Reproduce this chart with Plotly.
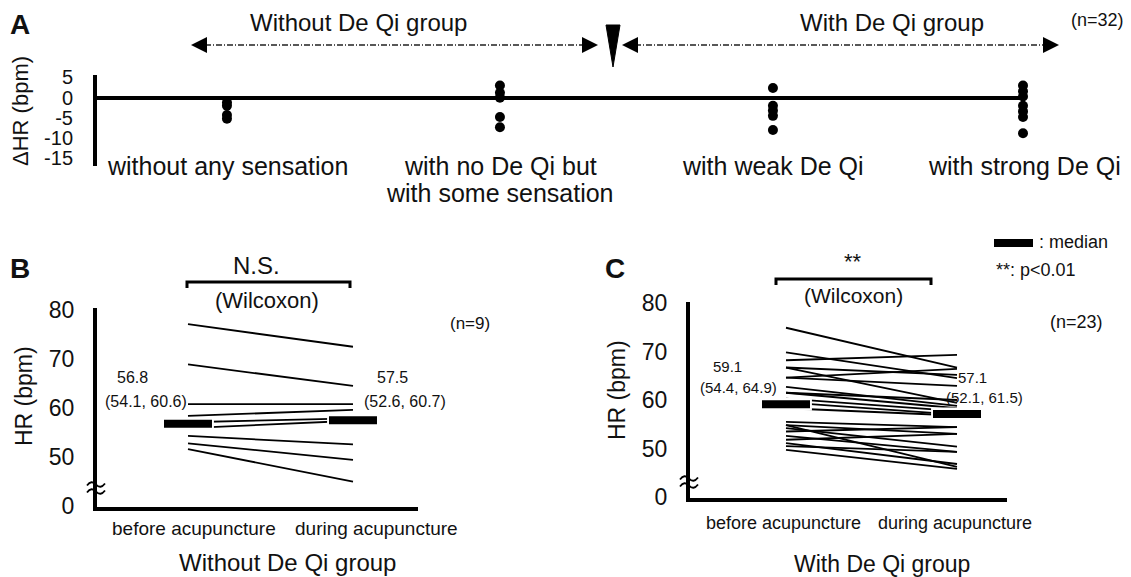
import plotly.graph_objects as go

W, H = 1131, 577
FONT = "Liberation Sans, Arial, Helvetica, sans-serif"
INK = "#111111"


def px(x):
    return x / W


def py(y):
    return 1 - y / H


# ---------------- data ----------------
# Panel A: change of HR (bpm) by sensation category
A_categories = ["without any sensation", "with no De Qi but<br>with some sensation",
                "with weak De Qi", "with strong De Qi"]
A_dhr_without_sensation = [-1.2, -2.0, -4.3, -5.2]
A_dhr_no_deqi = [3.0, 1.2, 0.0, -4.8, -7.3]
A_dhr_weak = [2.4, -2.0, -3.2, -4.5, -8.0]
A_dhr_strong = [3.0, 1.6, 0.3, -2.0, -3.4, -4.8, -8.8]
A_yticks = [5, 0, -5, -10, -15]
A_groups = ["Without De Qi group", "With De Qi group"]
A_n = "(n=32)"

# Panel B: without De Qi group (n=9)
B_before = [77.1, 68.9, 60.8, 58.4, 57.1, 55.9, 54.3, 52.8, 51.6]
B_during = [72.5, 64.5, 60.8, 59.6, 57.9, 57.4, 52.6, 49.4, 45.0]
B_median = [56.8, 57.5]
B_q1 = [54.1, 52.6]
B_q3 = [60.6, 60.7]

# Panel C: with De Qi group (n=23)
C_before = [74.9, 69.8, 68.2, 66.7, 66.7, 64.6, 64.6, 62.7, 61.5, 60.3, 59.5, 58.3,
            55.5, 54.8, 54.8, 54.2, 53.5, 52.6, 51.8, 51.1, 50.5, 49.7, 61.5]
C_during = [66.7, 64.5, 69.3, 65.2, 59.4, 66.4, 62.9, 58.8, 58.3, 57.7, 57.0, 56.8,
            54.4, 53.0, 46.2, 50.4, 54.4, 49.3, 53.0, 46.8, 49.3, 45.8, 60.0]
C_median = [59.1, 57.1]
C_q1 = [54.4, 52.1]
C_q3 = [64.9, 61.5]

HR_ticks = [80, 70, 60, 50, 40]
HR_ticktext = ["80", "70", "60", "50", "0"]
phases = ["before acupuncture", "during acupuncture"]

# ---------------- layout constants ----------------
A_pos = [0, 1, 2, 2.916]

fig = go.Figure()

# Panel A dots
for pos, vals in zip(A_pos, [A_dhr_without_sensation, A_dhr_no_deqi, A_dhr_weak, A_dhr_strong]):
    fig.add_trace(go.Scatter(x=[pos] * len(vals), y=vals, mode="markers",
                             marker=dict(color="black", size=10),
                             xaxis="x", yaxis="y", cliponaxis=False,
                             showlegend=False, hoverinfo="skip"))


def paired(before, during, median, xa, ya, half):
    for b, d in zip(before, during):
        fig.add_trace(go.Scatter(x=[0, 1], y=[b, d], mode="lines",
                                 line=dict(color="black", width=1.8),
                                 xaxis=xa, yaxis=ya, showlegend=False, hoverinfo="skip"))
    for i, m in enumerate(median):
        fig.add_trace(go.Scatter(x=[i - half * 1.08, i + half * 1.08], y=[m, m], mode="lines",
                                 line=dict(color="white", width=13),
                                 xaxis=xa, yaxis=ya, showlegend=False, hoverinfo="skip"))
        fig.add_trace(go.Scatter(x=[i - half, i + half], y=[m, m], mode="lines",
                                 line=dict(color="black", width=8),
                                 xaxis=xa, yaxis=ya, showlegend=False, hoverinfo="skip"))


paired(B_before, B_during, B_median, "x2", "y2", 24 / 165)
paired(C_before, C_during, C_median, "x3", "y3", 24 / 171)

hidden_x = dict(showline=False, showticklabels=False, showgrid=False, zeroline=False,
                ticks="", automargin=False)


def hr_yaxis(domain, rng, anchor):
    return dict(domain=domain, range=rng, anchor=anchor, showline=True, linewidth=4,
                linecolor="black", showgrid=False, zeroline=False, automargin=False,
                tickvals=HR_ticks, ticktext=HR_ticktext, ticks="outside", ticklen=14,
                tickcolor="rgba(0,0,0,0)", tickfont=dict(size=23, color=INK, family=FONT))


fig.update_layout(
    width=W, height=H, margin=dict(l=0, r=0, t=0, b=0, pad=0, autoexpand=False),
    paper_bgcolor="white", plot_bgcolor="white",
    font=dict(family=FONT, color=INK),
    showlegend=False,
    xaxis=dict(domain=[px(97), px(1023)], range=[-0.476, 2.916], anchor="y", **hidden_x),
    yaxis=dict(domain=[py(166), py(75)], range=[-16.9, 5.6], anchor="x",
               showline=True, linewidth=4, linecolor="black", showgrid=False,
               zeroline=True, zerolinewidth=4, zerolinecolor="black", automargin=False,
               tickvals=A_yticks, ticktext=[str(v) for v in A_yticks],
               ticks="outside", ticklen=16, tickcolor="rgba(0,0,0,0)",
               tickfont=dict(size=20, color=INK, family=FONT)),
    xaxis2=dict(domain=[px(97), px(418)], range=[-0.5515, 1.394], anchor="y2",
                showline=True, linewidth=4, linecolor="black", showgrid=False,
                zeroline=False, showticklabels=False, ticks="", automargin=False),
    yaxis2=hr_yaxis([py(507), py(308)], [39.8, 80.41], "x2"),
    xaxis3=dict(domain=[px(690), px(1007)], range=[-0.5614, 1.2924], anchor="y3",
                showline=True, linewidth=4, linecolor="black", showgrid=False,
                zeroline=False, showticklabels=False, ticks="", automargin=False),
    yaxis3=hr_yaxis([py(498), py(302)], [39.79, 80.21], "x3"),
)

ann = []


def text(x, y, s, size, bold=False, angle=0, xanchor="center"):
    ann.append(dict(x=px(x), y=py(y), xref="paper", yref="paper", text=f"<b>{s}</b>" if bold else s,
                    showarrow=False, xanchor=xanchor, yanchor="middle", textangle=angle,
                    font=dict(size=size, color=INK, family=FONT)))


# Panel labels
text(20, 25, "A", 28, bold=True)
text(20, 268, "B", 28, bold=True)
text(615, 268, "C", 28, bold=True)

# Panel A texts
text(358, 22, A_groups[0], 24)
text(892, 22, A_groups[1], 24)
text(1097, 20, A_n, 18)
text(21, 111, "ΔHR (bpm)", 22, angle=-90)
A_label_x = [227, 500, 773, 1024]
for cx, lab in zip(A_label_x, A_categories):
    for k, line in enumerate(lab.split("<br>")):
        text(cx, 166 + 27 * k, line, 25)

# arrows in A
shapes = []
for x0, x1 in [(194, 596), (624, 1056)]:
    shapes.append(dict(type="line", xref="paper", yref="paper", x0=px(x0), x1=px(x1),
                       y0=py(45), y1=py(45), line=dict(color="#222", width=1.3, dash="6px,2px,1px,2px")))
for tip, tail in [(191, 203), (598, 586), (622, 634), (1059, 1047)]:
    ann.append(dict(x=px(tip), y=py(45), xref="paper", yref="paper", ax=tail - tip, ay=0,
                    text="", showarrow=True, arrowhead=2, arrowsize=1.6, arrowwidth=2,
                    arrowcolor="black", standoff=0, startstandoff=0))
shapes.append(dict(type="path", xref="paper", yref="paper",
                   path=f"M {px(606)},{py(25)} L {px(620)},{py(25)} L {px(613)},{py(67)} Z",
                   fillcolor="black", line=dict(color="black", width=1)))

# Panel B texts
text(24, 396, "HR (bpm)", 23, angle=-90)
text(256, 265, "N.S.", 24)
text(267, 300, "(Wilcoxon)", 22)
text(470, 323, "(n=9)", 17)
text(132, 377, f"{B_median[0]}", 16)
text(146, 401, f"({B_q1[0]}, {B_q3[0]})", 16)
text(392, 377, f"{B_median[1]}", 16)
text(405, 401, f"({B_q1[1]}, {B_q3[1]})", 16)
text(194, 528, phases[0], 19)
text(376, 528, phases[1], 19)
text(287, 562, A_groups[0], 24)

# Panel C texts
text(617, 390, "HR (bpm)", 23, angle=-90)
text(853, 262, "**", 22)
text(853, 295, "(Wilcoxon)", 21)
text(1076, 322, "(n=23)", 18)
text(1037, 242, ": median", 18, xanchor="left")
text(994, 270, "**: p<0.01", 18, xanchor="left")
text(727, 366, f"{C_median[0]}", 15)
text(739, 387, f"({C_q1[0]}, {C_q3[0]})", 15)
text(972, 377, f"{C_median[1]}", 15)
text(984, 397, f"({C_q1[1]}, {C_q3[1]})", 15)
text(783, 523, phases[0], 18)
text(955, 523, phases[1], 18)
text(882, 564, A_groups[1], 23)

# axis-break marks (two wavy strokes across the y axis)
for cx, cy in [(96, 488), (689, 482)]:
    for dy in (-3.5, 3.5):
        yy = cy + dy
        path = (f"M {px(cx - 9)},{py(yy + 1)} Q {px(cx - 4.5)},{py(yy - 5)} {px(cx)},{py(yy)} "
                f"T {px(cx + 9)},{py(yy - 1)}")
        shapes.append(dict(type="path", xref="paper", yref="paper", path=path,
                           line=dict(color="black", width=1.8)))

# brackets
for x0, x1, yb in [(187, 350, 282), (776, 931, 279)]:
    shapes.append(dict(type="path", xref="paper", yref="paper",
                       path=f"M {px(x0)},{py(yb + 6)} L {px(x0)},{py(yb)} L {px(x1)},{py(yb)} L {px(x1)},{py(yb + 6)}",
                       line=dict(color="black", width=3)))
# legend median bar
shapes.append(dict(type="rect", xref="paper", yref="paper", x0=px(994), x1=px(1033),
                   y0=py(247), y1=py(239), fillcolor="black", line=dict(width=0)))

fig.update_layout(annotations=ann, shapes=shapes)
fig.write_html("out.html")
